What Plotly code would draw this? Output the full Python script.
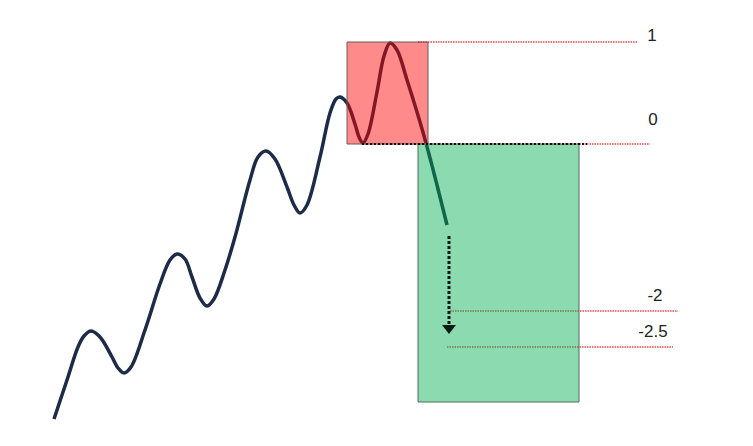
import plotly.graph_objects as go

# price path (screen-like coords: y grows downwards)
curve_x = [54, 67, 78, 84, 91, 100, 112, 118, 124, 131, 145, 160, 170, 177, 185,
           192, 200, 207, 214, 225, 235, 250, 258, 266, 275, 287, 294, 300, 307,
           320, 330, 336, 340, 347, 355, 359, 363, 368, 377, 384, 390, 397, 407,
           417, 426, 437, 447]
curve_y = [419, 380, 347, 336, 331, 337, 357, 368, 373, 367, 330, 284, 260, 254, 259,
           277, 298, 306, 299, 270, 237, 180, 157, 151, 159, 187, 205, 213, 205,
           157, 113, 99, 97, 103, 124, 137, 143, 134, 92, 56, 43, 50, 80,
           112, 143, 185, 225]

# levels
level_labels = ["1", "0", "-2", "-2.5"]
level_y = [42, 144, 311, 347]
level_x0 = [418, 362, 450, 447]
level_x1 = [638, 650, 678, 673]
label_x = [652, 653, 655, 653]
label_y = [37, 121, 297, 333]

# boxes
red_box_x = [347, 428]
red_box_y = [42, 144]
green_box_x = [418, 579]
green_box_y = [144, 402]

# zero line + arrow
zero_x = [362, 587]
arrow_x = [449, 449]
arrow_y = [236, 326]

fig = go.Figure()

fig.add_trace(go.Scatter(x=curve_x, y=curve_y, mode="lines",
                         line=dict(color="#1c2b47", width=3.5, shape="spline", smoothing=1.0),
                         hoverinfo="skip"))

for i in range(len(level_labels)):
    fig.add_trace(go.Scatter(x=[level_x0[i], level_x1[i]], y=[level_y[i], level_y[i]],
                             mode="lines",
                             line=dict(color="#e64848", width=1.5, dash="1.5px,1px"),
                             hoverinfo="skip"))


def box(xs, ys, fill, edge):
    return go.Scatter(x=[xs[0], xs[1], xs[1], xs[0], xs[0]],
                      y=[ys[0], ys[0], ys[1], ys[1], ys[0]],
                      mode="lines", fill="toself", fillcolor=fill,
                      line=dict(color=edge, width=1), hoverinfo="skip")


fig.add_trace(box(red_box_x, red_box_y, "rgba(255,0,0,0.46)", "#6a5a5a"))
fig.add_trace(box(green_box_x, green_box_y, "rgba(0,176,80,0.45)", "#4f6a5c"))

fig.add_trace(go.Scatter(x=zero_x, y=[level_y[1], level_y[1]], mode="lines",
                         line=dict(color="#111111", width=2, dash="2px,2px"),
                         hoverinfo="skip"))

fig.add_trace(go.Scatter(x=arrow_x, y=arrow_y, mode="lines",
                         line=dict(color="#0b1a12", width=3, dash="3px,2px"),
                         hoverinfo="skip"))
fig.add_trace(go.Scatter(x=[arrow_x[1]], y=[arrow_y[1] + 2], mode="markers",
                         marker=dict(symbol="triangle-down", size=12, color="#0b1a12"),
                         hoverinfo="skip"))

fig.add_trace(go.Scatter(x=label_x, y=label_y, mode="text", text=level_labels,
                         textfont=dict(family="Liberation Sans, Arial", size=17, color="#222222"),
                         hoverinfo="skip"))

# the page adds an 8px body margin, so shift the ranges to keep screen coords
fig.update_layout(width=753, height=446, margin=dict(l=0, r=0, t=0, b=0),
                  showlegend=False, plot_bgcolor="white", paper_bgcolor="white")
fig.update_xaxes(range=[8, 761], visible=False)
fig.update_yaxes(range=[454, 8], visible=False)

fig.write_html("out.html")
